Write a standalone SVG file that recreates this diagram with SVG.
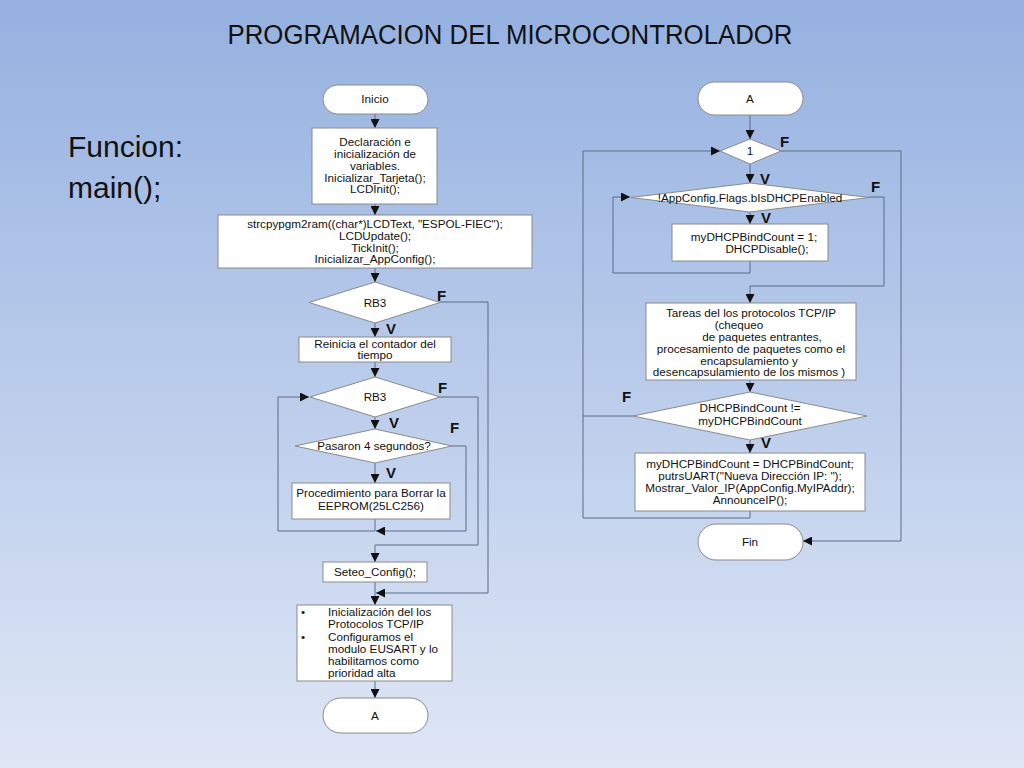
<svg xmlns="http://www.w3.org/2000/svg" width="1024" height="768" viewBox="0 0 1024 768">
<defs>
<linearGradient id="bg" x1="0" y1="0" x2="0" y2="1">
<stop offset="0" stop-color="#95b1e0"/>
<stop offset="1" stop-color="#dfe7f6"/>
</linearGradient>
<marker id="ah" viewBox="0 0 10 10" refX="10" refY="5" markerWidth="9" markerHeight="9" markerUnits="userSpaceOnUse" orient="auto">
<path d="M0,0 L10,5 L0,10 Z" fill="#111"/>
</marker>
<style>
.shape{fill:#fff;stroke:#8a8a8a;stroke-width:1}
.t{font-family:"Liberation Sans",Arial,sans-serif;font-size:11.7px;fill:#111;text-anchor:middle}
.tl{font-family:"Liberation Sans",Arial,sans-serif;font-size:11.7px;fill:#111}
.lbl{font-family:"Liberation Sans",Arial,sans-serif;font-size:15px;font-weight:bold;fill:#111}
.c{fill:none;stroke:#5d6a86;stroke-width:1}
.a{marker-end:url(#ah)}
</style>
</defs>
<rect width="1024" height="768" fill="url(#bg)"/>
<text x="510" y="44" font-family="Liberation Sans,Arial,sans-serif" font-size="27" fill="#111" text-anchor="middle" textLength="565" lengthAdjust="spacingAndGlyphs">PROGRAMACION DEL MICROCONTROLADOR</text>
<text x="68" y="157" font-family="Liberation Sans,Arial,sans-serif" font-size="30" fill="#111">Funcion:</text>
<text x="68" y="198" font-family="Liberation Sans,Arial,sans-serif" font-size="30" fill="#111">main();</text>

<g id="connectors">
<path class="c a" d="M375,114 V128"/>
<path class="c a" d="M375,204 V215"/>
<path class="c a" d="M375,268 V282"/>
<path class="c a" d="M375,323 V337"/>
<path class="c a" d="M375,362 V377"/>
<path class="c a" d="M375,417 V429"/>
<path class="c a" d="M375,463 V483"/>
<path class="c a" d="M375,519 V531 H278 V397 H309"/>
<path class="c a" d="M452,446 H466 V531 H376"/>
<path class="c a" d="M440,397 H478 V545 H375 V562"/>
<path class="c a" d="M375,582 V605"/>
<path class="c a" d="M440,302 H488 V593 H376"/>
<path class="c a" d="M375,681 V698"/>
<path class="c a" d="M750,115 V139"/>
<path class="c a" d="M750,164 V183"/>
<path class="c a" d="M750,212 V224"/>
<path class="c a" d="M750,261 V273 H613 V197 H630"/>
<path class="c a" d="M869,197 H884 V286 H750 V303"/>
<path class="c a" d="M750,380 V392"/>
<path class="c a" d="M750,440 V453"/>
<path class="c a" d="M750,511 V518 H583 V151 H720"/>
<path class="c" d="M633,416 H583"/>
<path class="c a" d="M781,151 H901 V541 H803"/>
</g>

<g id="inicio">
<rect class="shape" x="323" y="85" width="105" height="29" rx="14.5"/>
<text class="t" x="375" y="103">Inicio</text>
</g>
<g id="declaracion">
<rect class="shape" x="312" y="128" width="125" height="76"/>
<text class="t" x="375" y="146">Declaración e</text>
<text class="t" x="375" y="158">inicialización de</text>
<text class="t" x="375" y="170">variables.</text>
<text class="t" x="375" y="182">Inicializar_Tarjeta();</text>
<text class="t" x="375" y="193">LCDInit();</text>
</g>
<g id="strcpy">
<rect class="shape" x="218" y="215" width="314" height="53"/>
<text class="t" x="375" y="228">strcpypgm2ram((char*)LCDText, "ESPOL-FIEC");</text>
<text class="t" x="375" y="240">LCDUpdate();</text>
<text class="t" x="375" y="252">TickInit();</text>
<text class="t" x="375" y="263">Inicializar_AppConfig();</text>
</g>
<g id="rb3a">
<polygon class="shape" points="309,302.5 375,282 440,302.5 375,323"/>
<text class="t" x="375" y="307">RB3</text>
<text class="lbl" x="437" y="301">F</text>
<text class="lbl" x="386" y="334">V</text>
</g>
<g id="reinicia">
<rect class="shape" x="299" y="337" width="152" height="25"/>
<text class="t" x="375" y="348">Reinicia el contador del</text>
<text class="t" x="375" y="359">tiempo</text>
</g>
<g id="rb3b">
<polygon class="shape" points="310,397 375,377 440,397 375,417"/>
<text class="t" x="375" y="401">RB3</text>
<text class="lbl" x="438" y="393">F</text>
<text class="lbl" x="389" y="428">V</text>
</g>
<g id="pasaron">
<polygon class="shape" points="295,446 375,429 452,446 375,463"/>
<text class="t" x="374" y="450">Pasaron 4 segundos?</text>
<text class="lbl" x="450" y="433">F</text>
<text class="lbl" x="386" y="478">V</text>
</g>
<g id="procedimiento">
<rect class="shape" x="292" y="483" width="158" height="36"/>
<text class="t" x="371" y="497">Procedimiento para Borrar la</text>
<text class="t" x="371" y="510">EEPROM(25LC256)</text>
</g>
<g id="seteo">
<rect class="shape" x="323" y="562" width="104" height="20"/>
<text class="t" x="375" y="576">Seteo_Config();</text>
</g>
<g id="inicializacion">
<rect class="shape" x="297" y="605" width="155" height="76"/>
<text class="tl" x="301" y="616">•</text>
<text class="tl" x="328" y="616">Inicialización del los</text>
<text class="tl" x="328" y="628">Protocolos TCP/IP</text>
<text class="tl" x="301" y="641">•</text>
<text class="tl" x="328" y="641">Configuramos el</text>
<text class="tl" x="328" y="653">modulo EUSART y lo</text>
<text class="tl" x="328" y="665">habilitamos como</text>
<text class="tl" x="328" y="677">prioridad alta</text>
</g>
<g id="a_left">
<rect class="shape" x="323" y="698" width="105" height="35" rx="17.5"/>
<text class="t" x="375" y="720">A</text>
</g>

<g id="a_right">
<rect class="shape" x="698" y="82" width="105" height="33" rx="16.5"/>
<text class="t" x="750" y="103">A</text>
</g>
<g id="uno">
<polygon class="shape" points="720,151 750,139 781,151 750,164"/>
<text class="t" x="750" y="155">1</text>
<text class="lbl" x="780" y="147">F</text>
<text class="lbl" x="760" y="184">V</text>
</g>
<g id="appconfig">
<polygon class="shape" points="631,197.5 750,183 869,197.5 750,212"/>
<text class="t" x="750" y="202">!AppConfig.Flags.bIsDHCPEnabled</text>
<text class="lbl" x="871" y="192">F</text>
<text class="lbl" x="761" y="223">V</text>
</g>
<g id="dhcpdisable">
<rect class="shape" x="672" y="224" width="156" height="37"/>
<text class="t" x="754" y="241">myDHCPBindCount = 1;</text>
<text class="t" x="767" y="253">DHCPDisable();</text>
</g>
<g id="tareas">
<rect class="shape" x="646" y="303" width="210" height="77"/>
<text class="t" x="751" y="317">Tareas del los protocolos TCP/IP</text>
<text class="t" x="739" y="329">(chequeo</text>
<text class="t" x="762" y="341">de paquetes entrantes,</text>
<text class="t" x="751" y="353">procesamiento de paquetes como el</text>
<text class="t" x="749" y="365">encapsulamiento y</text>
<text class="t" x="749" y="376">desencapsulamiento de los mismos  )</text>
</g>
<g id="dhcpcount">
<polygon class="shape" points="633,416 750,392 867,416 750,440"/>
<text class="t" x="750" y="412">DHCPBindCount !=</text>
<text class="t" x="750" y="425">myDHCPBindCount</text>
<text class="lbl" x="622" y="402">F</text>
<text class="lbl" x="761" y="448">V</text>
</g>
<g id="mostrar">
<rect class="shape" x="635" y="453" width="230" height="58"/>
<text class="t" x="750" y="468">myDHCPBindCount = DHCPBindCount;</text>
<text class="t" x="750" y="480">putrsUART("Nueva Dirección IP: ");</text>
<text class="t" x="750" y="492">Mostrar_Valor_IP(AppConfig.MyIPAddr);</text>
<text class="t" x="750" y="504">AnnounceIP();</text>
</g>
<g id="fin">
<rect class="shape" x="698" y="524" width="105" height="36" rx="18"/>
<text class="t" x="750" y="546">Fin</text>
</g>
</svg>
